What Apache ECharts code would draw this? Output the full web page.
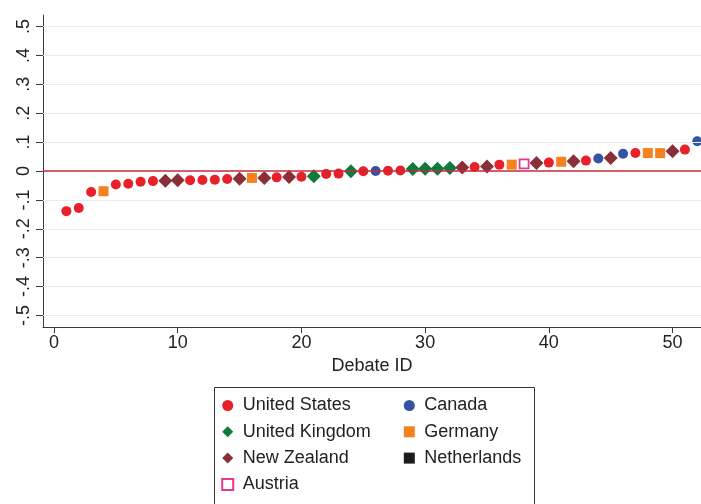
<!DOCTYPE html>
<html>
<head>
<meta charset="utf-8">
<title>Debate effects by country</title>
<script src="https://cdn.jsdelivr.net/npm/echarts@6/dist/echarts.min.js"></script>
<style>
  html, body { margin: 0; padding: 0; background: #fff; }
  #chart { width: 701px; height: 504px; }
</style>
</head>
<body>
<div id="chart"></div>
<script>
// Country of each debate, ordered by Debate ID (1..52)
const debateCountry = [
  'United States', 'United States', 'United States', 'Germany', 'United States',
  'United States', 'United States', 'United States', 'New Zealand', 'New Zealand',
  'United States', 'United States', 'United States', 'United States', 'New Zealand',
  'Germany', 'New Zealand', 'United States', 'New Zealand', 'United States',
  'United Kingdom', 'United States', 'United States', 'United Kingdom', 'United States',
  'Canada', 'United States', 'United States', 'United Kingdom', 'United Kingdom',
  'United Kingdom', 'United Kingdom', 'New Zealand', 'United States', 'New Zealand',
  'United States', 'Germany', 'Austria', 'New Zealand', 'United States',
  'Germany', 'New Zealand', 'United States', 'Canada', 'New Zealand',
  'Canada', 'United States', 'Germany', 'Germany', 'New Zealand',
  'United States', 'Canada'
];

// Estimated effect per debate, same order
const debateEffect = [
  -0.139, -0.128, -0.073, -0.070, -0.047,
  -0.044, -0.037, -0.035, -0.034, -0.032,
  -0.032, -0.031, -0.030, -0.028, -0.027,
  -0.024, -0.024, -0.022, -0.021, -0.020,
  -0.018, -0.010, -0.009, -0.001, -0.001,
   0.000,  0.001,  0.002,  0.007,  0.008,
   0.008,  0.010,  0.012,  0.014,  0.016,
   0.022,  0.022,  0.025,  0.028,  0.029,
   0.032,  0.034,  0.036,  0.043,  0.045,
   0.060,  0.062,  0.062,  0.062,  0.068,
   0.074,  0.103
];

const xTicks = [0, 10, 20, 30, 40, 50];
const yTicks = [-0.5, -0.4, -0.3, -0.2, -0.1, 0, 0.1, 0.2, 0.3, 0.4, 0.5];

const legendLeft = ['United States', 'United Kingdom', 'New Zealand', 'Austria'];
const legendRight = ['Canada', 'Germany', 'Netherlands'];

// Marker style per country
const markerStyle = {
  'United States':  { symbol: 'circle',  size: 10, color: '#e8202a' },
  'Canada':         { symbol: 'circle',  size: 10, color: '#3552a3' },
  'United Kingdom': { symbol: 'diamond', size: 14, color: '#0f7a3c' },
  'Germany':        { symbol: 'rect',    size: 10, color: '#f5821f' },
  'New Zealand':    { symbol: 'diamond', size: 14, color: '#8a2f3a' },
  'Netherlands':    { symbol: 'rect',    size: 10, color: '#1c1c1c' },
  'Austria':        { symbol: 'rect',    size: 9,  color: '#e8368f', hollow: true }
};

const fontFamily = '"Liberation Sans", Arial, sans-serif';
const fontSize = 18;
const axisColor = '#3a3a3a';
const textColor = '#222';

function fmtY(v) {
  if (Math.abs(v) < 1e-9) return '0';
  return v.toFixed(1).replace('0.', '.');
}

const countrySeries = legendLeft.concat(legendRight).map(function (name) {
  const st = markerStyle[name];
  const pts = [];
  debateEffect.forEach(function (v, i) {
    if (debateCountry[i] === name) pts.push([i + 1, v]);
  });
  return {
    name: name,
    type: 'scatter',
    z: 3,
    symbol: st.symbol,
    symbolSize: st.size,
    data: pts,
    itemStyle: st.hollow
      ? { color: '#ffffff', borderColor: st.color, borderWidth: 1.8, opacity: 1 }
      : { color: st.color, opacity: 1 },
    emphasis: { disabled: true }
  };
});

// Horizontal reference lines: light grid and the red zero line
const guideSeries = {
  name: 'guides',
  type: 'line',
  data: [],
  z: 1,
  silent: true,
  markLine: {
    silent: true,
    symbol: 'none',
    animation: false,
    label: { show: false },
    data: yTicks.filter(function (t) { return t !== 0; }).map(function (t) {
      return { yAxis: t, lineStyle: { color: '#e4eef0', width: 1, type: 'solid' } };
    }).concat([{ yAxis: 0, lineStyle: { color: '#c42a3a', width: 1.5, type: 'solid' } }])
  }
};

const legendCommon = {
  orient: 'vertical',
  padding: 0,
  itemWidth: 11,
  itemHeight: 11,
  itemGap: 8.3,
  selectedMode: false,
  textStyle: {
    fontFamily: fontFamily, fontSize: fontSize, color: textColor,
    lineHeight: 18, padding: [0, 0, 0, 4.5]
  }
};

const chart = echarts.init(document.getElementById('chart'), null, { renderer: 'canvas' });
chart.setOption({
  animation: false,
  backgroundColor: '#ffffff',
  grid: { left: 43, right: 0, top: 15, bottom: 177, containLabel: false },
  xAxis: {
    type: 'value',
    min: -0.89,
    max: 52.3,
    name: 'Debate ID',
    nameLocation: 'middle',
    nameGap: 30,
    nameTextStyle: { fontFamily: fontFamily, fontSize: fontSize, color: textColor },
    axisLine: { show: true, onZero: false, lineStyle: { color: axisColor, width: 1 } },
    axisTick: { show: true, length: 6, customValues: xTicks, lineStyle: { color: axisColor } },
    axisLabel: { customValues: xTicks, margin: 7, fontFamily: fontFamily, fontSize: fontSize, color: textColor },
    splitLine: { show: false }
  },
  yAxis: {
    type: 'value',
    min: -0.54,
    max: 0.54,
    axisLine: { show: true, onZero: false, lineStyle: { color: axisColor, width: 1 } },
    axisTick: { show: true, length: 7, customValues: yTicks, lineStyle: { color: axisColor } },
    axisLabel: {
      customValues: yTicks,
      rotate: 90,
      margin: 10,
      fontFamily: fontFamily,
      fontSize: fontSize,
      color: textColor,
      formatter: fmtY
    },
    splitLine: { show: false }
  },
  legend: [
    Object.assign({ left: 221.2, top: 396.5, data: legendLeft }, legendCommon),
    Object.assign({ left: 403.8, top: 396.5, data: legendRight }, legendCommon)
  ],
  graphic: [{
    type: 'rect',
    silent: true,
    shape: { x: 214.5, y: 387.5, width: 320, height: 140 },
    style: { fill: 'none', stroke: '#333', lineWidth: 1 }
  }],
  series: [guideSeries].concat(countrySeries)
});
</script>
</body>
</html>
